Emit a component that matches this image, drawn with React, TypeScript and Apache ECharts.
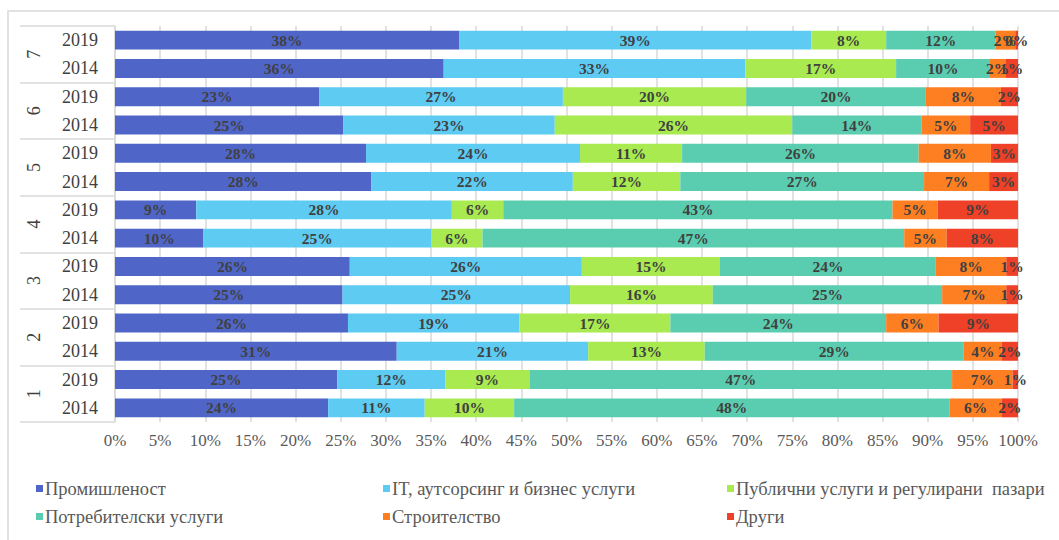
import React, { useEffect, useRef } from "react";
import * as echarts from "echarts";

const categories = [
  "1-2014", "1-2019", "2-2014", "2-2019", "3-2014", "3-2019", "4-2014",
  "4-2019", "5-2014", "5-2019", "6-2014", "6-2019", "7-2014", "7-2019",
];
const groups = ["1", "2", "3", "4", "5", "6", "7"];
const seriesNames = [
  "Промишленост",
  "IT, аутсорсинг и бизнес услуги",
  "Публични услуги и регулирани  пазари",
  "Потребителски услуги",
  "Строителство",
  "Други",
];
const industry = [23.6, 24.6, 31.2, 25.8, 25.2, 26.0, 9.8, 9.0, 28.4, 27.8, 25.3, 22.6, 36.4, 38.1];
const itServices = [10.7, 12.0, 21.2, 19.0, 25.2, 25.7, 25.2, 28.3, 22.3, 23.7, 23.4, 27.0, 33.4, 39.0];
const publicServices = [9.9, 9.3, 12.9, 16.7, 15.8, 15.3, 5.7, 5.7, 11.9, 11.3, 26.3, 20.3, 16.7, 8.3];
const consumer = [48.2, 46.8, 28.7, 23.9, 25.4, 23.9, 46.7, 43.1, 27.0, 26.2, 14.3, 19.9, 10.4, 12.1];
const construction = [5.8, 6.7, 4.2, 5.8, 7.1, 7.8, 4.7, 5.0, 7.2, 8.0, 5.4, 8.3, 1.7, 2.2];
const other = [1.8, 0.6, 1.8, 8.8, 1.3, 1.3, 7.9, 8.9, 3.2, 3.0, 5.3, 1.9, 1.4, 0.3];
const seriesValues = [industry, itServices, publicServices, consumer, construction, other];
const colors = ["#4F66C8", "#5DCBF2", "#A8EA50", "#5ACDB0", "#FD7F22", "#EE4127"];

const SERIF = "'Liberation Serif', 'DejaVu Serif', serif";

export default function App() {
  const ref = useRef<HTMLDivElement>(null);
  useEffect(() => {
    if (!ref.current) return;
    const chart = echarts.init(ref.current, undefined, { renderer: "svg" });
    const legendLefts = [36, 383, 727, 36, 383, 727];
    const legendTops = [479, 479, 479, 507, 507, 507];
    chart.setOption({
      animation: false,
      backgroundColor: "#ffffff",
      graphic: [
        {
          type: "rect",
          shape: { x: 8, y: 11, width: 1200, height: 700 },
          style: { fill: "none", stroke: "#d9d9d9", lineWidth: 1.5 },
          z: -10,
          silent: true,
        },
      ],
      grid: { left: 115, right: 41, top: 26, bottom: 118, containLabel: false },
      legend: seriesNames.map((n, i) => ({
        data: [n],
        left: legendLefts[i],
        top: legendTops[i],
        padding: 0,
        icon: "rect",
        itemWidth: 7,
        itemHeight: 7,
        selectedMode: false,
        textStyle: { fontFamily: SERIF, fontSize: 18.5, color: "#595959", padding: [0, 0, 0, -3] },
      })),
      xAxis: {
        type: "value",
        min: 0,
        max: 100,
        interval: 5,
        axisLine: { show: false },
        axisTick: { show: false },
        splitLine: { show: true, lineStyle: { color: "#d9d9d9", width: 1.5 } },
        axisLabel: {
          formatter: "{value}%",
          fontFamily: SERIF,
          fontSize: 17,
          color: "#595959",
          margin: 10,
        },
      },
      yAxis: [
        {
          type: "category",
          data: categories,
          axisLine: { show: true, lineStyle: { color: "#d9d9d9", width: 1.5 } },
          axisTick: { show: false },
          axisLabel: {
            formatter: (v: string) => v.split("-")[1],
            fontFamily: SERIF,
            fontSize: 18,
            color: "#404040",
            margin: 17,
          },
        },
        {
          type: "category",
          data: groups,
          position: "left",
          offset: 0,
          axisLine: { show: false },
          axisTick: { show: true, length: 95, lineStyle: { color: "#d9d9d9", width: 1.5 } },
          axisLabel: {
            rotate: 90,
            fontFamily: SERIF,
            fontSize: 18,
            color: "#404040",
            margin: 72,
          },
        },
      ],
      series: seriesNames.map((n, i) => ({
        name: n,
        type: "bar",
        stack: "total",
        yAxisIndex: 0,
        barWidth: "67%",
        itemStyle: { color: colors[i] },
        label: {
          show: true,
          position: "inside",
          formatter: (p: any) => Math.round(p.value) + "%",
          fontFamily: SERIF,
          fontWeight: "bold",
          fontSize: 15.5,
          color: "#404040",
        },
        data: seriesValues[i],
      })),
    });
    return () => chart.dispose();
  }, []);
  return (
    <div
      ref={ref}
      style={{ position: "fixed", left: 0, top: 0, width: 1059, height: 540 }}
    />
  );
}
